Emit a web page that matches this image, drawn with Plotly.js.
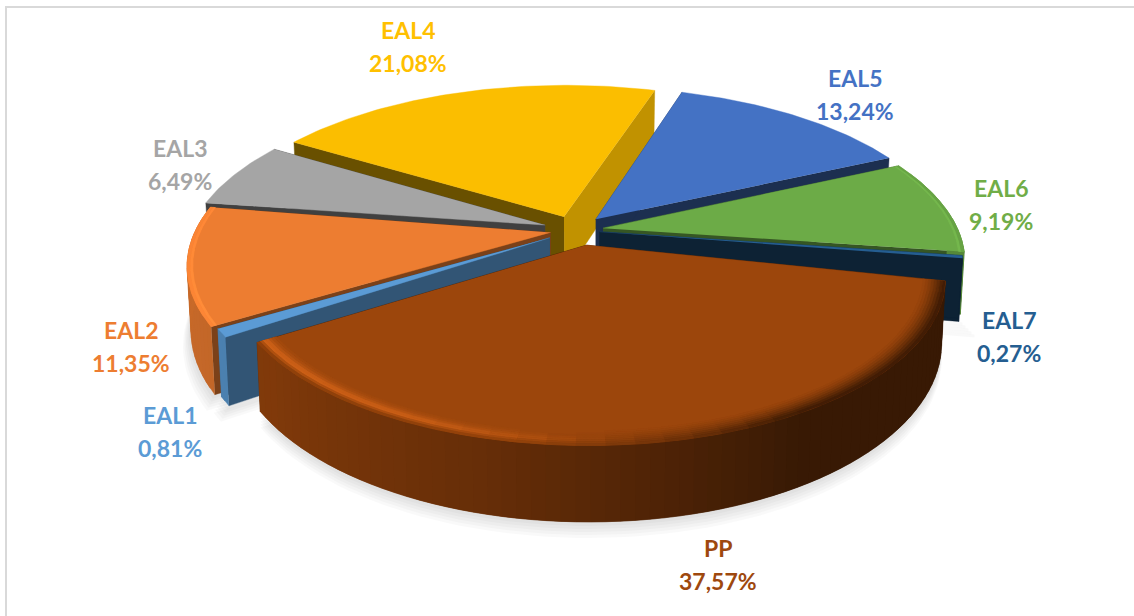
<!DOCTYPE html>
<html><head><meta charset="utf-8">
<script src="https://cdn.plot.ly/plotly-3.0.1.min.js"></script>
<style>html,body{margin:0;padding:0;background:#fff}#c{width:1134px;height:616px}</style>
</head><body><div id="c"></div>
<script>
// ---- data ----
var categories = ['PP','EAL1','EAL2','EAL3','EAL4','EAL5','EAL6','EAL7'];
var shares     = [37.57,0.81,11.35,6.49,21.08,13.24,9.19,0.27];
// ---- styles ----
var colors     = ['#9c460c','#5b9bd5','#ed7d31','#a5a5a5','#fbbe00','#4472c4','#6cab47','#255e91'];
var labelColors= ['#9e480e','#5b9bd5','#ed7d31','#a5a5a5','#ffc000','#4472c4','#70ad47','#255e91'];
var pulls      = [0.072,0.085,0.07,0.09,0.09,0.09,0.08,0.07];
var radiusScale= [0.975,0.97,1,1,1,1,1,1];
var angleShift = [3,1.5,1,0,0,0,0,0];
var shiftU     = [0.015,0,0,0,0,0,0,0];
var shiftV     = [0.022,0,0,0,0,0,0,0];
var startFaceShade = [0.4,0.55,0.52,0.39,0.42,0.41,0.5,0.36];
var endFaceShade   = [0.4,0.55,0.5,0.5,0.77,0.41,0.5,0.36];
var labelX = [718,170,131,180,408,855,1001,1009];
var labelY = [548,415,330,148,30,78,188,320];
var paintOrder = [4,5,3,6,2,7,1,0];
var firstAngle = 99.2;
var CX=575, CY=230, A=355, B=161, K=0.19, H=61;

function project(u,v,down){
  var s=1/(1-K*v), x=CX+A*u*s, y=CY+B*v*s;
  if(down){ x=CX+(x-CX)*0.99; y+=H*s; }
  return [x,y];
}
function rgb(c){return [parseInt(c.substr(1,2),16),parseInt(c.substr(3,2),16),parseInt(c.substr(5,2),16)];}
function shade(c,f){
  return 'rgb('+rgb(c).map(function(a){return Math.min(255,Math.round(a*f+(f>1?(f-1)*30:0)));}).join(',')+')';
}
function lerpTable(t,x){
  if(x<=t[0][0]) return t[0][1];
  for(var i=0;i<t.length-1;i++){ if(x<=t[i+1][0]){var r=(x-t[i][0])/(t[i+1][0]-t[i][0]);return t[i][1]+(t[i+1][1]-t[i][1])*r;} }
  return t[t.length-1][1];
}
var wallTable=[[60,0.36],[150,0.36],[170,0.5],[195,0.66],[233,0.82],[285,0.86],[400,0.8]];
var darkStrength=[[75,0],[90,0.5],[102,1],[150,1],[172,0.4],[190,0]];
var lightStrength=[[172,0],[205,0.9],[240,1],[290,0.6]];
var ringEdges=[0.94,0.9475,0.955,0.9625,0.97,0.9775,0.985,0.9925,1.0];
var ringDark =[0.97,0.92,0.86,0.78,0.70,0.60,0.50,0.42];
var ringLight=[1.0,1.03,1.07,1.14,1.24,1.26,1.10,0.92];
var ringLightOrange=[1,1,1,1,1,1,1.1,1.06];
// first ring drawn for each bevelled slice
var bevelStart={0:0,2:6,6:6};

var traces=[];
function poly(pts,color,name,soft){
  traces.push({type:'scatter',mode:'lines',x:pts.map(function(p){return p[0];}),y:pts.map(function(p){return p[1];}),
    fill:'toself',fillcolor:color,line:{color:soft?'rgba(0,0,0,0)':color,width:soft?0:0.4},
    hoverinfo:'skip',showlegend:false,name:name});
}
var total=shares.reduce(function(a,b){return a+b;},0);
var slices=[], ang=firstAngle;
categories.forEach(function(n,i){
  var sw=shares[i]/total*360, mid=(ang+sw/2)*Math.PI/180;
  slices.push({i:i,name:n,t0:ang+angleShift[i],t1:ang+sw+angleShift[i],
    u0:pulls[i]*Math.sin(mid)+shiftU[i],v0:-pulls[i]*Math.cos(mid)+shiftV[i],rs:radiusScale[i]});
  ang+=sw;
});
function pt(sl,th,r,down){
  var a=th*Math.PI/180;
  return project(sl.u0+r*sl.rs*Math.sin(a),sl.v0-r*sl.rs*Math.cos(a),down);
}
function arcSteps(sl,step){var n=Math.max(2,Math.ceil((sl.t1-sl.t0)/step)),o=[];for(var j=0;j<=n;j++)o.push(sl.t0+(sl.t1-sl.t0)*j/n);return o;}

// soft floor shadow under the front slices
[0,1,2,7].forEach(function(k){
  var sl=slices[k];
  [16,13,10,7,4].forEach(function(d){
    var pts=[pt(sl,sl.t0,0,true)].concat(arcSteps(sl,2).map(function(t){return pt(sl,t,1,true);}));
    poly(pts.map(function(p){return [p[0]+(k===7?d:(k===1||k===2?-d*0.5:0)),p[1]+d];}),'rgba(0,0,0,0.022)','shadow '+sl.name,true);
  });
});

paintOrder.forEach(function(k){
  var sl=slices[k], c=colors[k], name=sl.name;
  // radial cut faces
  var a0=pt(sl,sl.t0,0,false),b0=pt(sl,sl.t0,1,false),a1=pt(sl,sl.t0,0,true),b1=pt(sl,sl.t0,1,true);
  var e0=pt(sl,sl.t1,1,false),e1=pt(sl,sl.t1,1,true);
  poly([a0,e0,e1,a1],shade(c,endFaceShade[k]),name);
  poly([a0,b0,b1,a1],shade(c,startFaceShade[k]),name);
  // outer wall in colour bands; each band overlaps the next so no seams show
  var ts=arcSteps(sl,2);
  for(var j=0;j<ts.length-1;j++){
    var tm=(ts[j]+ts[j+1])/2, tw=tm<60?tm+360:tm;
    if(Math.cos(tm*Math.PI/180)>0.1) continue;
    var tn=ts[Math.min(j+2,ts.length-1)];
    var steps=[ts[j],ts[j+1],tn];
    var up=steps.map(function(t){return pt(sl,t,1,false);});
    var dn=steps.map(function(t){return pt(sl,t,1,true);}).reverse();
    poly(up.concat(dn),shade(c,k===7?0.36:lerpTable(wallTable,tw)),name);
  }
  // top face
  var top=[pt(sl,sl.t0,0,false)].concat(arcSteps(sl,1).map(function(t){return pt(sl,t,1,false);}));
  poly(top,c,name);
  // bevel along the rim
  if(bevelStart[k]!==undefined){
    var ts2=arcSteps(sl,4);
    var lights=k===2?ringLightOrange:ringLight;
    for(var r=bevelStart[k];r<ringDark.length;r++){
      for(var q=0;q<ts2.length-1;q++){
        var tq=(ts2[q]+ts2[q+1])/2;
        var ds=lerpTable(darkStrength,tq), ls=lerpTable(lightStrength,tq);
        var f=1+(ringDark[r]-1)*ds+(lights[r]-1)*ls;
        if(Math.abs(f-1)<0.012) continue;
        var tz=ts2[Math.min(q+2,ts2.length-1)], tMid=ts2[q+1];
        poly([pt(sl,ts2[q],ringEdges[r],false),pt(sl,tMid,ringEdges[r],false),pt(sl,tz,ringEdges[r],false),
              pt(sl,tz,ringEdges[r+1],false),pt(sl,tMid,ringEdges[r+1],false),pt(sl,ts2[q],ringEdges[r+1],false)],shade(c,f),name);
      }
    }
  }
});

var annotations=[];
categories.forEach(function(n,i){
  var font={family:'Lato, sans-serif',size:23,color:labelColors[i],weight:700};
  annotations.push({x:labelX[i],y:labelY[i],xref:'x',yref:'y',text:'<b>'+n+'</b>',showarrow:false,font:font,xanchor:'center',yanchor:'middle'});
  annotations.push({x:labelX[i],y:labelY[i]+33,xref:'x',yref:'y',text:'<b>'+shares[i].toFixed(2).replace('.',',')+'%</b>',showarrow:false,font:font,xanchor:'center',yanchor:'middle'});
});

var layout={width:1134,height:616,margin:{l:0,r:0,t:0,b:0},paper_bgcolor:'#fbfafb',plot_bgcolor:'#ffffff',showlegend:false,
  xaxis:{range:[0,1134],visible:false,fixedrange:true},
  yaxis:{range:[616,0],visible:false,fixedrange:true},
  annotations:annotations,
  shapes:[{type:'rect',xref:'x',yref:'y',x0:6,y0:7,x1:1140,y1:640,line:{color:'#d9d9d9',width:2},fillcolor:'#ffffff',layer:'below'}]};
Plotly.newPlot('c',traces,layout,{staticPlot:true,displayModeBar:false});
</script></body></html>
